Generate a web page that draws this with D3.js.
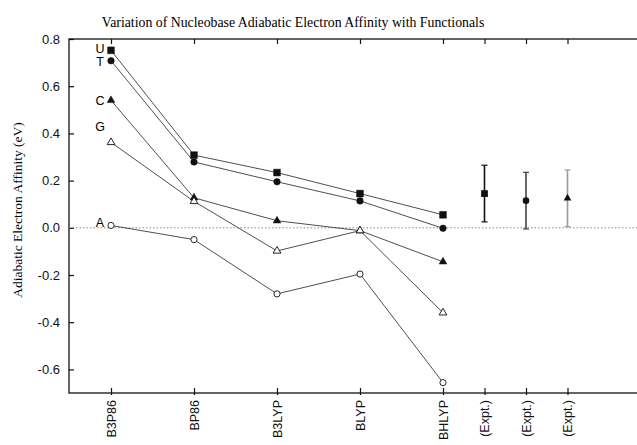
<!DOCTYPE html>
<meta charset="utf-8">
<script src="https://d3js.org/d3.v7.min.js"></script>
<style>
body { margin: 0; background: #fff; }
.frame { fill: none; stroke: #111; stroke-width: 1.3px; }
.tick line { stroke: #111; stroke-width: 1.2px; }
.axis path { display: none; }
.axis text { font-family: "Liberation Sans", Arial, sans-serif; font-size: 13px; fill: #111; }
.x.axis text { font-size: 12.5px; }
.serieLine { fill: none; stroke: #222; stroke-width: 0.8px; }
.zeroLine { stroke: #888; stroke-width: 1px; stroke-dasharray: 1.5px 2px; }
.baseLabel { font-family: "Liberation Sans", Arial, sans-serif; font-size: 12.5px; fill: #000; }
</style>
<body></body>
<script>

// categories along x (five functionals, then three experiments)
var functionals = ['B3P86', 'BP86', 'B3LYP', 'BLYP', 'BHLYP'];
var exptLabels = ['(Expt.)', '(Expt.)', '(Expt.)'];

// adiabatic electron affinity (eV) per nucleobase, one value per functional
var bases = ['U', 'T', 'C', 'G', 'A'];
var valuesU = [0.752, 0.308, 0.234, 0.145, 0.055];
var valuesT = [0.708, 0.279, 0.195, 0.114, -0.002];
var valuesC = [0.540, 0.127, 0.030, -0.012, -0.144];
var valuesG = [0.362, 0.112, -0.098, -0.012, -0.360];
var valuesA = [0.010, -0.050, -0.280, -0.196, -0.656];

// where the base letters sit (eV), next to the B3P86 point
var labelValues = [0.758, 0.704, 0.538, 0.428, 0.022];

// experimental values (U, T, C) with error bars
var exptMean = [0.145, 0.115, 0.125];
var exptErr = [0.12, 0.12, 0.12];

var yTicks = [0.8, 0.6, 0.4, 0.2, 0.0, -0.2, -0.4, -0.6];

var seriesValues = [valuesU, valuesT, valuesC, valuesG, valuesA];
var markerStyle = [
  {type: d3.symbolSquare, size: 46, open: false},
  {type: d3.symbolCircle, size: 34, open: false},
  {type: d3.symbolTriangle, size: 26, open: false},
  {type: d3.symbolTriangle, size: 26, open: true},
  {type: d3.symbolCircle, size: 30, open: true}
];
var exptColors = ['#111', '#444', '#999'];

var width = 637, height = 445;
var svg = d3.select('body').append('svg')
  .attr('width', width)
  .attr('height', height);

var plot = {left: 69, top: 39, bottom: 393};

// slot position: functionals are one unit apart, experiments half a unit
function slot(i) { return i < functionals.length ? i : (functionals.length - 1) + (i - functionals.length + 1) * 0.5; }

var xScale = d3.scaleLinear()
  .domain([0, 1])
  .range([111, 194]);

var yScale = d3.scaleLinear()
  .domain([-0.7, 0.8])
  .range([plot.bottom, plot.top]);

var allLabels = functionals.concat(exptLabels);
var slots = allLabels.map(function(d, i) { return slot(i); });

// frame (right side runs off the page)
svg.append('rect')
  .attr('class', 'frame')
  .attr('x', plot.left)
  .attr('y', plot.top)
  .attr('width', xScale(6.5) - plot.left)
  .attr('height', plot.bottom - plot.top);

// bottom axis with rotated labels
var xAxis = d3.axisBottom(xScale)
  .tickValues(slots)
  .tickSizeInner(-5)
  .tickSizeOuter(0)
  .tickFormat(function(d, i) { return allLabels[i]; });

svg.append('g')
  .attr('class', 'x axis')
  .attr('transform', 'translate(0,' + plot.bottom + ')')
  .call(xAxis)
  .selectAll('text')
    .attr('transform', 'rotate(-90)')
    .attr('text-anchor', 'end')
    .attr('x', -7)
    .attr('y', 0)
    .attr('dy', '0.35em');

svg.selectAll('.x.axis .tick line').attr('y2', -5).attr('y1', 2);

// top ticks
svg.append('g')
  .attr('class', 'axis')
  .attr('transform', 'translate(0,' + plot.top + ')')
  .call(d3.axisTop(xScale).tickValues(slots).tickSizeInner(-5).tickSizeOuter(0).tickFormat(''));

// left axis
var yAxis = d3.axisLeft(yScale)
  .tickValues(yTicks)
  .tickSizeInner(-5)
  .tickSizeOuter(0)
  .tickPadding(9)
  .tickFormat(function(d) { return d3.format('.1f')(d).replace('\u2212', '-'); });

svg.append('g')
  .attr('class', 'y axis')
  .attr('transform', 'translate(' + plot.left + ',0)')
  .call(yAxis);

// dotted zero line
svg.append('line')
  .attr('class', 'zeroLine')
  .attr('x1', plot.left)
  .attr('x2', width)
  .attr('y1', yScale(0))
  .attr('y2', yScale(0));

// title and y label
svg.append('text')
  .attr('x', 293)
  .attr('y', 27)
  .attr('text-anchor', 'middle')
  .style('font-family', '"Liberation Serif", "Times New Roman", serif')
  .style('font-size', '13.8px')
  .text('Variation of Nucleobase Adiabatic Electron Affinity with Functionals');

svg.append('text')
  .attr('transform', 'translate(22,' + 210 + ') rotate(-90)')
  .attr('text-anchor', 'middle')
  .style('font-family', '"Liberation Serif", "Times New Roman", serif')
  .style('font-size', '13.5px')
  .text('Adiabatic Electron Affinity (eV)');

// lines per nucleobase
var lineGenerator = d3.line()
  .x(function(d, i) { return xScale(i); })
  .y(function(d) { return yScale(d); });

var groups = svg.selectAll('.baseGroup')
  .data(seriesValues)
  .enter().append('g')
  .attr('class', 'baseGroup');

groups.append('path')
  .attr('class', 'serieLine')
  .attr('d', function(d) { return lineGenerator(d); });

groups.each(function(vals, k) {
  var st = markerStyle[k];
  d3.select(this).selectAll('path.marker')
    .data(vals)
    .enter().append('path')
    .attr('class', 'marker')
    .attr('transform', function(d, i) { return 'translate(' + xScale(i) + ',' + yScale(d) + ')'; })
    .attr('d', d3.symbol().type(st.type).size(st.size))
    .style('fill', st.open ? '#fff' : '#111')
    .style('stroke', '#111')
    .style('stroke-width', st.open ? 0.9 : 0.5);
});

// base letters
svg.selectAll('.baseLabel')
  .data(bases)
  .enter().append('text')
  .attr('class', 'baseLabel')
  .attr('x', 100)
  .attr('y', function(d, i) { return yScale(labelValues[i]); })
  .attr('dy', '0.36em')
  .attr('text-anchor', 'middle')
  .text(function(d) { return d; });

// experimental points with error bars
var expt = svg.selectAll('.exptGroup')
  .data(exptMean)
  .enter().append('g')
  .attr('class', 'exptGroup')
  .attr('transform', function(d, i) { return 'translate(' + xScale(slot(functionals.length + i)) + ',0)'; });

expt.append('line')
  .attr('y1', function(d, i) { return yScale(d + exptErr[i]); })
  .attr('y2', function(d, i) { return yScale(d - exptErr[i]); })
  .style('stroke', function(d, i) { return exptColors[i]; })
  .style('stroke-width', 1.6);

[1, -1].forEach(function(sgn) {
  expt.append('line')
    .attr('x1', -3).attr('x2', 3)
    .attr('y1', function(d, i) { return yScale(d + sgn * exptErr[i]); })
    .attr('y2', function(d, i) { return yScale(d + sgn * exptErr[i]); })
    .style('stroke', function(d, i) { return exptColors[i]; })
    .style('stroke-width', 1.2);
});

expt.append('path')
  .attr('transform', function(d) { return 'translate(0,' + yScale(d) + ')'; })
  .attr('d', function(d, i) { return d3.symbol().type(markerStyle[i].type).size(markerStyle[i].size)(); })
  .style('fill', '#111');

</script>
